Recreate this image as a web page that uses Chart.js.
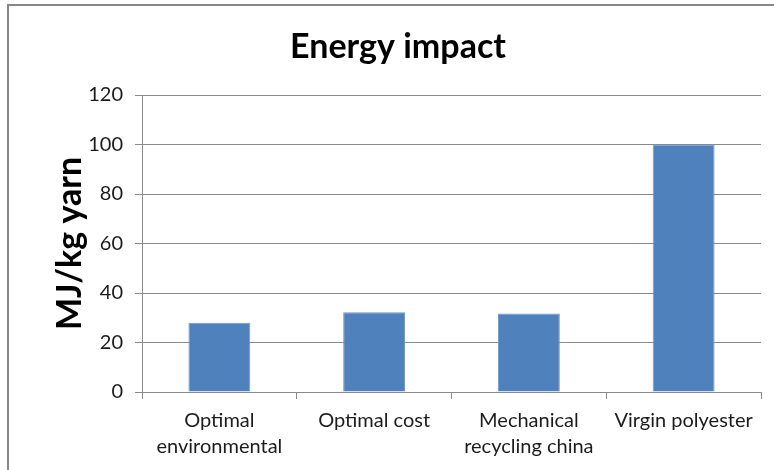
<!DOCTYPE html>
<html>
<head>
<meta charset="utf-8">
<script src="https://cdn.jsdelivr.net/npm/chart.js@4.4.1/dist/chart.umd.min.js"></script>
<style>
  body { margin: 0; background: #fff; }
  #wrap { position: relative; width: 774px; height: 470px; overflow: hidden; background: #fff; }
  #frame { position: absolute; left: 7px; top: 4px; width: 820px; height: 520px; border: 2px solid #878787; box-sizing: border-box; }
  #chart { position: absolute; left: 0; top: 0; }
</style>
</head>
<body>
<div id="wrap">
  <div id="frame"></div>
  <canvas id="chart" width="774" height="470"></canvas>
</div>
<script>
// --- DATA ---
const categories = [
    ['Optimal', 'environmental'],
    'Optimal cost',
    ['Mechanical', 'recycling china'],
    'Virgin polyester'
];
const energyValues = [28, 32.2, 31.7, 100];
const yTicks = [0, 20, 40, 60, 80, 100, 120];

const chartTitle = 'Energy impact';
const yAxisTitle = 'MJ/kg yarn';

const GRID = '#8a8a8a';
const TEXT = '#1c1c1c';
const FONT = 'Lato, "Open Sans", sans-serif';

// Title drawn centred like the spreadsheet original (slightly right of canvas centre)
const titlePlugin = {
    id: 'excelTitle',
    afterDraw(chart) {
        const ctx = chart.ctx;
        ctx.save();
        ctx.font = 'bold 34px ' + FONT;
        ctx.fillStyle = '#000';
        ctx.textAlign = 'center';
        ctx.textBaseline = 'middle';
        ctx.fillText(chartTitle, 398, 47);
        ctx.restore();
    }
};

const ctx = document.getElementById('chart').getContext('2d');
new Chart(ctx, {
    type: 'bar',
    data: {
        labels: categories,
        datasets: [{
            label: 'Energy impact',
            data: energyValues,
            backgroundColor: '#4f81bd',
            borderColor: '#6f97c9',
            borderWidth: 1,
            categoryPercentage: 1,
            barPercentage: 0.4
        }]
    },
    options: {
        responsive: false,
        animation: false,
        devicePixelRatio: 1,
        layout: { padding: { top: 95, right: 13, bottom: 0, left: 0 } },
        plugins: {
            legend: { display: false },
            tooltip: { enabled: false },
            title: { display: false }
        },
        scales: {
            x: {
                offset: true,
                grid: { display: true, drawOnChartArea: false, color: GRID, tickLength: 7 },
                border: { color: GRID },
                ticks: {
                    color: TEXT,
                    padding: 9,
                    maxRotation: 0,
                    autoSkip: false,
                    font: { family: FONT, size: 20, lineHeight: 1.3 }
                },
                afterFit: s => { s.height = 78; }
            },
            y: {
                min: 0,
                max: 120,
                afterBuildTicks: s => { s.ticks = yTicks.map(v => ({ value: v })); },
                grid: { color: GRID, tickLength: 7 },
                border: { color: GRID },
                ticks: {
                    color: TEXT,
                    padding: 12,
                    font: { family: FONT, size: 20 }
                },
                title: {
                    display: true,
                    text: yAxisTitle,
                    color: '#000',
                    font: { family: FONT, size: 34, weight: 'bold' },
                    padding: { top: 50, bottom: 0 }
                },
                afterFit: s => { s.width = 142; }
            }
        }
    },
    plugins: [titlePlugin]
});
</script>
</body>
</html>
